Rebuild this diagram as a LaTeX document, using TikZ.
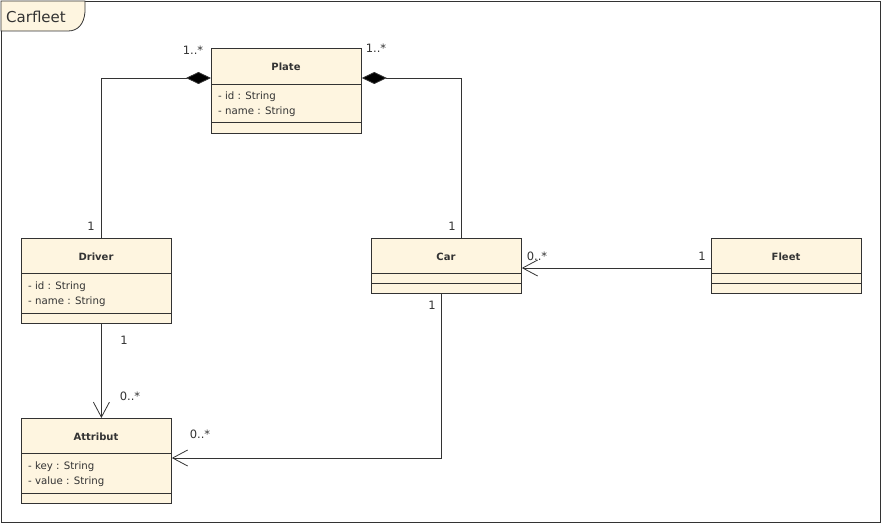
\documentclass[tikz,border=0pt]{standalone}
\usepackage{fontspec}
\setmainfont{DejaVu Sans}
\usetikzlibrary{arrows.meta,calc}
\definecolor{cls}{HTML}{FEF5E0}
\definecolor{ln}{HTML}{333333}
\begin{document}
\begin{tikzpicture}[x=1pt,y=-1pt,
  cbox/.style={draw=ln,fill=cls,line width=0.8pt,minimum width=150pt,inner sep=0pt,anchor=north west},
  sep/.style={draw=ln,line width=0.8pt},
  ttl/.style={font=\fontsize{10}{12}\selectfont\bfseries,text=ln,inner sep=0pt},
  attr/.style={font=\fontsize{10.2}{12}\selectfont,text=ln,anchor=west,inner sep=0pt},
  mult/.style={font=\fontsize{11.5}{13}\selectfont,text=ln,inner sep=0pt},
  conn/.style={draw=ln,line width=0.8pt},
  comp/.style={conn,{Diamond[length=25pt,width=12pt,fill=black]}-},
  nav/.style={conn,-{Straight Barb[length=15pt,width=16pt,line width=0.8pt]}}]
\useasboundingbox (0,0) rectangle (882,524);
% frame
\draw[ln,line width=0.8pt] (1,1) rectangle (880,522);
\path[fill=cls,draw=ln,line width=0.8pt] (1,1) -- (85,1) -- (85,12) .. controls (84,24) and (78,31) .. (68,31) -- (1,31) -- cycle;
\node[font=\fontsize{15}{17}\selectfont,text=ln,anchor=west,inner sep=0pt] (frametitle) at (6,17) {Carfleet};
% Plate
\node[cbox,minimum height=85pt] (plate) at (211,48) {};
\draw[sep] (211,84) -- (361,84) (211,122) -- (361,122);
\node[ttl] (platet) at (286,66.5) {Plate};
\node[attr] (plate1) at (218,96.5) {- id : String};
\node[attr] (plate2) at (218,111.5) {- name : String};
% Driver
\node[cbox,minimum height=85pt] (driver) at (21,238) {};
\draw[sep] (21,273) -- (171,273) (21,313) -- (171,313);
\node[ttl] (drivert) at (96,256.5) {Driver};
\node[attr] (driver1) at (28,286.5) {- id : String};
\node[attr] (driver2) at (28,301.5) {- name : String};
% Attribut
\node[cbox,minimum height=85pt] (attr) at (21,418) {};
\draw[sep] (21,453) -- (171,453) (21,493) -- (171,493);
\node[ttl] (attrt) at (96,436.5) {Attribut};
\node[attr] (attr1) at (28,466.5) {- key : String};
\node[attr] (attr2) at (28,481.5) {- value : String};
% Car
\node[cbox,minimum height=55pt] (car) at (371,238) {};
\draw[sep] (371,273) -- (521,273) (371,283) -- (521,283);
\node[ttl] (cart) at (446,256.5) {Car};
% Fleet
\node[cbox,minimum height=55pt] (fleet) at (711,238) {};
\draw[sep] (711,273) -- (861,273) (711,283) -- (861,283);
\node[ttl] (fleett) at (786,256.5) {Fleet};
% connectors
\draw[comp] ([yshift=-30pt]plate.north west) -| ([xshift=5pt]driver.north);
\draw[comp] ([yshift=-30pt]plate.north east) -| ([xshift=15pt]car.north);
\draw[nav] ([xshift=5pt]driver.south) -- ([xshift=5pt]attr.north);
\draw[nav] ([xshift=-5pt]car.south) |- ([yshift=-40pt]attr.north east);
\draw[nav] ([yshift=-30pt]fleet.north west) -- ([yshift=-30pt]car.north east);
% multiplicities
\node[mult] (m1) at (193,50) {1..*};
\node[mult] (m2) at (376,48) {1..*};
\node[mult] (m3) at (91,226) {1};
\node[mult] (m4) at (452,226) {1};
\node[mult] (m5) at (124,340) {1};
\node[mult] (m6) at (130,396) {0..*};
\node[mult] (m7) at (432,305) {1};
\node[mult] (m8) at (200,434) {0..*};
\node[mult] (m9) at (702,256) {1};
\node[mult] (m10) at (537,256) {0..*};
\end{tikzpicture}
\end{document}
